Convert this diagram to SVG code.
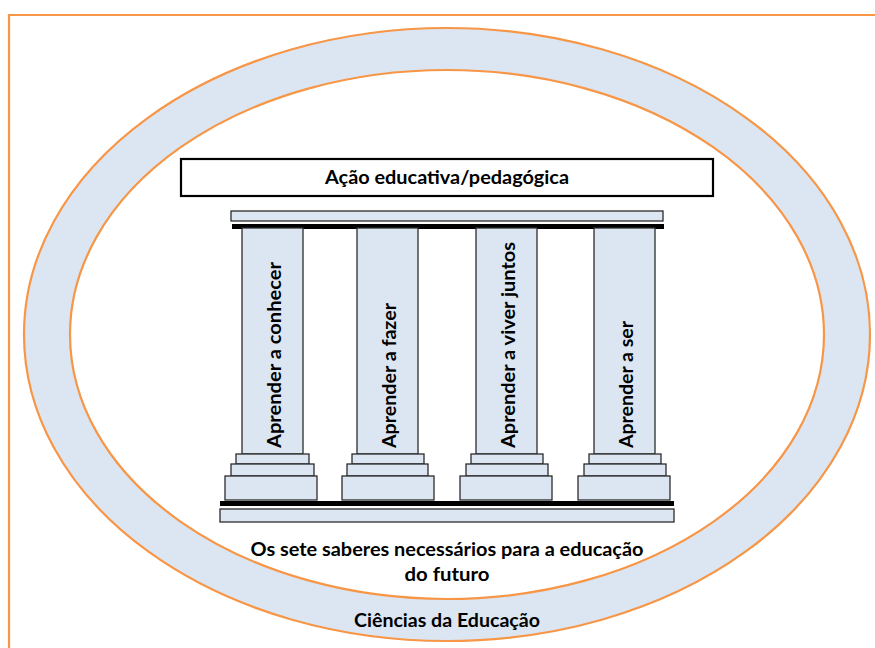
<svg xmlns="http://www.w3.org/2000/svg" width="875" height="648" viewBox="0 0 875 648">
<style>
.t{font-family:Lato,"Liberation Sans","DejaVu Sans",sans-serif;font-weight:bold;font-size:19px;fill:#000}
.blue{fill:#dce6f2;stroke:#2b2b2b;stroke-width:1.3}
.bar{fill:#000}
.ring{stroke:#f79646;stroke-width:2.2}
</style>
<rect width="875" height="648" fill="#fff"/>
<g id="frame"><path d="M9,648 V15 H875" fill="none" stroke="#f79646" stroke-width="2.2"/></g>
<g id="ciencias">
<ellipse class="ring" cx="447" cy="334.5" rx="423" ry="306.5" fill="#dce6f2"/>
<ellipse class="ring" cx="447" cy="334.5" rx="377" ry="264.5" fill="#fff"/>
<text class="t" x="447" y="627" text-anchor="middle" textLength="186" lengthAdjust="spacingAndGlyphs">Ciências da Educação</text>
</g>
<g id="acao">
<rect x="181" y="159" width="532" height="37" fill="#fff" stroke="#000" stroke-width="2.2"/>
<text class="t" x="447" y="184" text-anchor="middle" textLength="244" lengthAdjust="spacingAndGlyphs">Ação educativa/pedagógica</text>
</g>
<g id="architrave">
<rect class="blue" x="231" y="211" width="432" height="10"/>
<rect class="bar" x="232" y="224" width="432" height="5"/>
</g>
<g id="col1">
<rect class="blue" x="242" y="228" width="61" height="226"/>
<rect class="blue" x="236" y="454" width="73" height="10"/>
<rect class="blue" x="231" y="464" width="83" height="12"/>
<rect class="blue" x="225" y="476" width="92" height="24"/>
<text class="t" transform="translate(273,448) rotate(-90)" dominant-baseline="central" textLength="186" lengthAdjust="spacingAndGlyphs">Aprender a conhecer</text>
</g>
<g id="col2">
<rect class="blue" x="357" y="228" width="61" height="226"/>
<rect class="blue" x="352" y="454" width="72" height="10"/>
<rect class="blue" x="347" y="464" width="81" height="12"/>
<rect class="blue" x="342" y="476" width="92" height="24"/>
<text class="t" transform="translate(388,448) rotate(-90)" dominant-baseline="central" textLength="145" lengthAdjust="spacingAndGlyphs">Aprender a fazer</text>
</g>
<g id="col3">
<rect class="blue" x="476" y="228" width="61" height="226"/>
<rect class="blue" x="471" y="454" width="72" height="10"/>
<rect class="blue" x="466" y="464" width="82" height="12"/>
<rect class="blue" x="460" y="476" width="92" height="24"/>
<text class="t" transform="translate(507,448) rotate(-90)" dominant-baseline="central" textLength="206" lengthAdjust="spacingAndGlyphs">Aprender a viver juntos</text>
</g>
<g id="col4">
<rect class="blue" x="594" y="228" width="61" height="226"/>
<rect class="blue" x="589" y="454" width="72" height="10"/>
<rect class="blue" x="584" y="464" width="82" height="12"/>
<rect class="blue" x="578" y="476" width="92" height="24"/>
<text class="t" transform="translate(625,448) rotate(-90)" dominant-baseline="central" textLength="127" lengthAdjust="spacingAndGlyphs">Aprender a ser</text>
</g>
<g id="base">
<rect class="bar" x="220" y="501" width="454" height="5"/>
<rect class="blue" x="220" y="509" width="454" height="13"/>
<text class="t" x="447" y="556" text-anchor="middle" textLength="393" lengthAdjust="spacingAndGlyphs">Os sete saberes necessários para a educação</text>
<text class="t" x="447" y="581" text-anchor="middle" textLength="85" lengthAdjust="spacingAndGlyphs">do futuro</text>
</g>
<g id="connectors"/>
</svg>
